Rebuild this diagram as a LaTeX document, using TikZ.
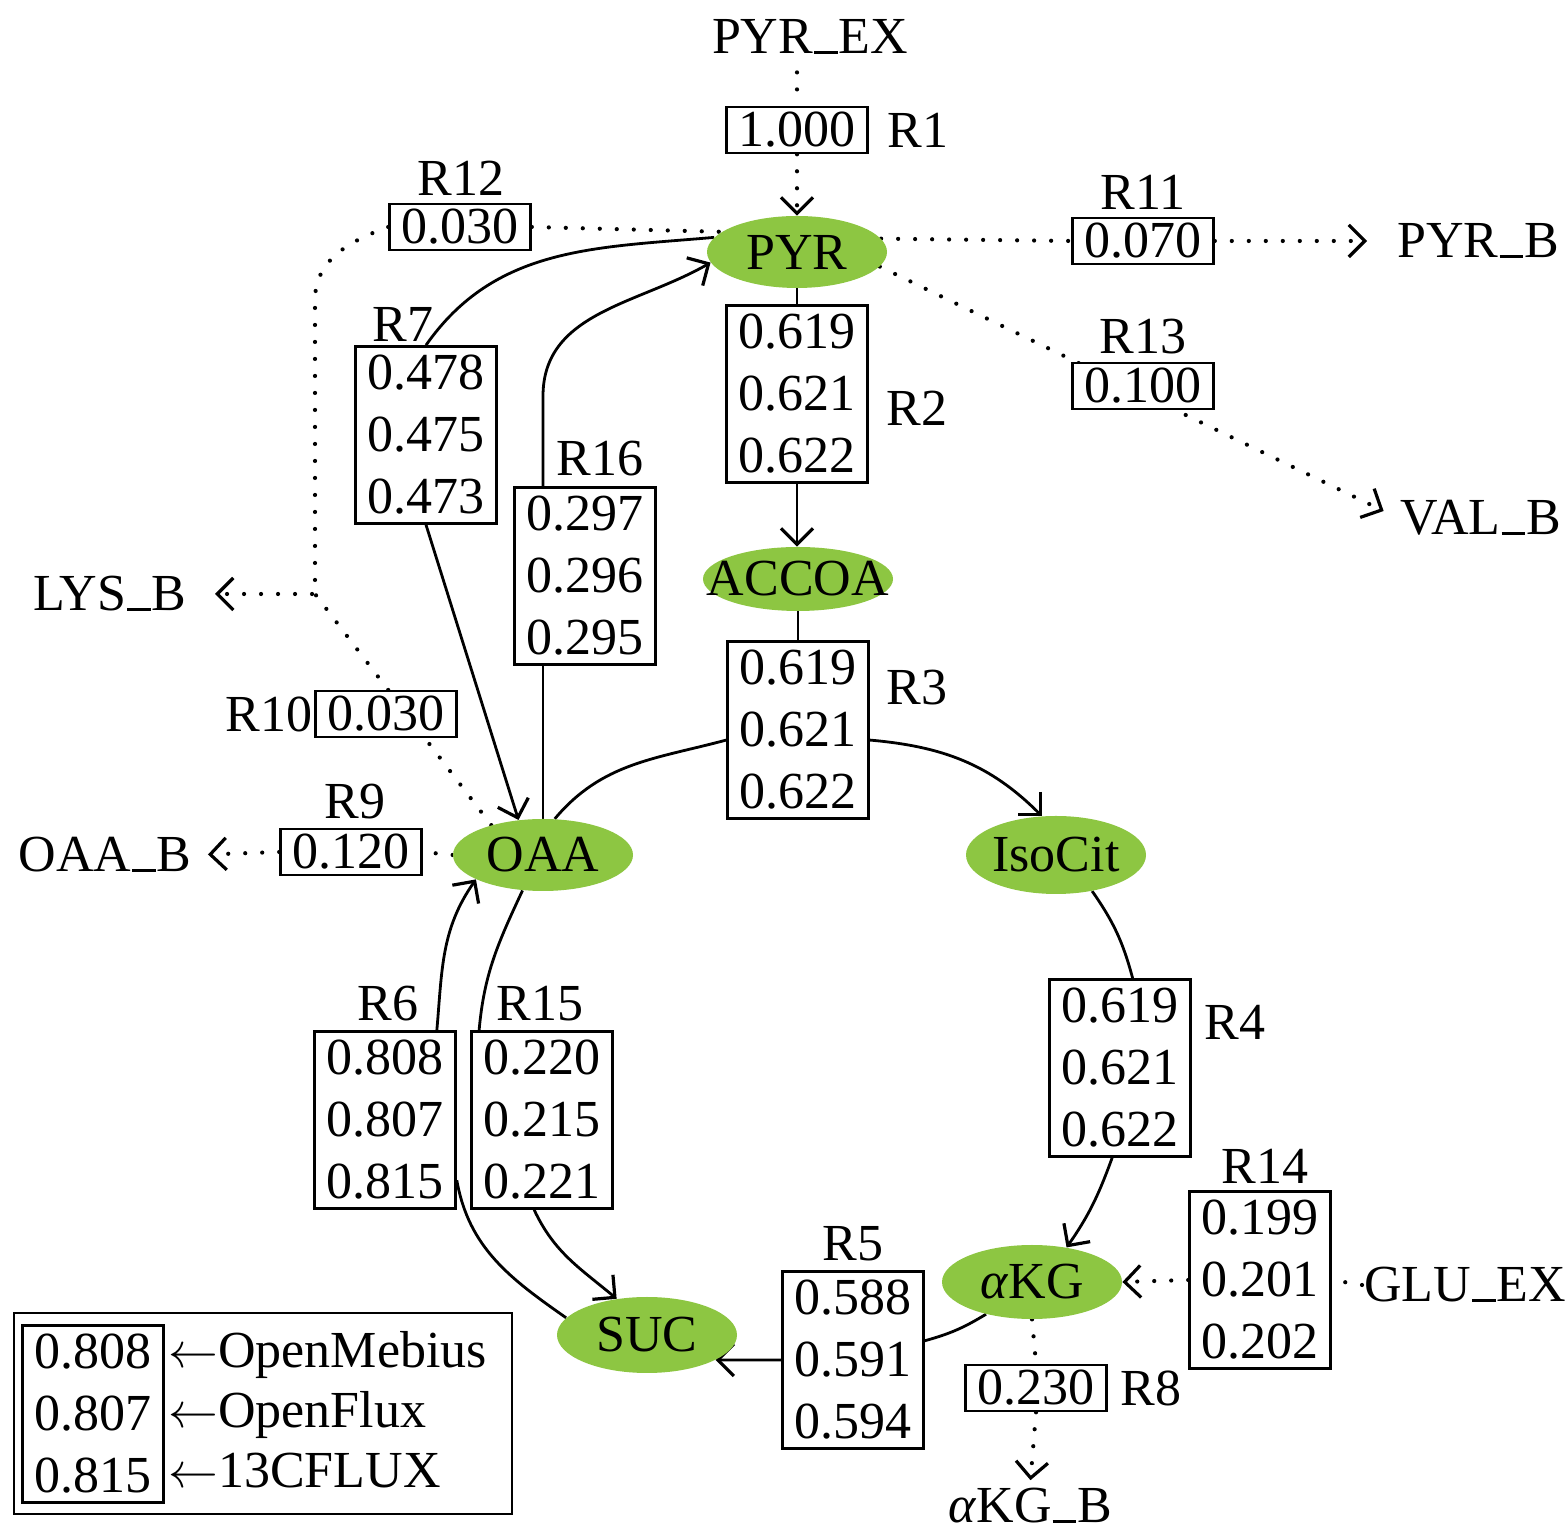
\documentclass[tikz,border=0pt]{standalone}
\usepackage{fontspec}
\setmainfont{Liberation Serif}
\usetikzlibrary{arrows.meta,shapes.geometric,calc}
\pgfdeclarelayer{bg}
\pgfsetlayers{bg,main}
\definecolor{metgreen}{RGB}{141,198,66}
\newcommand\zw[1]{\makebox[0pt]{#1}}
\newcommand\usc{\kern0.02em\rule{0.45em}{0.055em}\kern0.02em}
\begin{document}
\begin{tikzpicture}[x=0.5pt,y=0.5pt,
  font=\fontsize{26}{31}\selectfont,
  met/.style={ellipse, fill=metgreen, inner sep=0pt, minimum width=90pt, minimum height=36pt},
  onebox/.style={draw, fill=white, line width=1.3pt, inner sep=0pt, minimum width=70.5pt, minimum height=23pt},
  threebox/.style={draw, fill=white, line width=1.3pt, inner sep=0pt, minimum width=70.5pt, minimum height=88.5pt, align=center},
  lbl/.style={inner sep=1pt},
  flow/.style={line width=1.4pt},
  dotflow/.style={line width=2.1pt, line cap=round, dash pattern=on 0pt off 8.5pt},
  tipA/.style={-{Straight Barb[length=8pt,width=16pt,line width=1.6pt]}},
]
\useasboundingbox (0,0) rectangle (1567,1535);

% metabolites
\node[met] (pyr) at (797,1283) {\zw{PYR}};
\node[met, minimum width=95pt, minimum height=32pt] (accoa) at (798,956) {\zw{ACCOA}};
\node[met] (oaa) at (543,680) {\zw{OAA}};
\node[met, minimum height=39pt] (isocit) at (1056,680) {\zw{IsoCit}};
\node[met, minimum height=37pt] (akg) at (1032,253) {\zw{\textit{α}KG}};
\node[met, minimum height=38pt] (suc) at (647,200) {\zw{SUC}};

% flux boxes
\node[onebox] (r1) at (797,1405) {1.000};
\node[onebox] (r12) at (460,1308) {0.030};
\node[onebox] (r11) at (1143,1294) {0.070};
\node[onebox] (r13) at (1143,1149) {0.100};
\node[threebox] (r2) at (797,1141) {0.619\\0.621\\0.622};
\node[threebox] (r7) at (426,1100) {0.478\\0.475\\0.473};
\node[threebox] (r16) at (585,959) {0.297\\0.296\\0.295};
\node[threebox] (r3) at (798,805) {0.619\\0.621\\0.622};
\node[onebox] (r10) at (386,821) {0.030};
\node[onebox] (r9) at (351,683) {0.120};
\node[threebox] (r6) at (385,415) {0.808\\0.807\\0.815};
\node[threebox] (r15) at (542,415) {0.220\\0.215\\0.221};
\node[threebox] (r4) at (1120,467) {0.619\\0.621\\0.622};
\node[threebox] (r14) at (1260,255) {0.199\\0.201\\0.202};
\node[threebox] (r5) at (853,175) {0.588\\0.591\\0.594};
\node[onebox] (r8) at (1036,147) {0.230};

% legend
\node[draw, line width=1.3pt, minimum width=249pt, minimum height=100.5pt, inner sep=0pt] (legend) at (263,121.5) {};
\node[threebox] (legbox) at (93,121) {0.808\\0.807\\0.815};
\node[lbl, anchor=base west] (lg1) at (166,167) {$\leftarrow$OpenMebius};
\node[lbl, anchor=base west] (lg2) at (166,107) {$\leftarrow$OpenFlux};
\node[lbl, anchor=base west] (lg3) at (166,47) {$\leftarrow$13CFLUX};

% labels
\node[lbl] (pyrex) at (810,1498) {PYR\usc EX};
\node[lbl, anchor=west] (l1) at (885,1405) {R1};
\node[lbl] (l12) at (461,1357) {R12};
\node[lbl] (l11) at (1143,1343) {R11};
\node[lbl, anchor=west] (pyrb) at (1395,1294) {PYR\usc B};
\node[lbl] (l13) at (1143,1198) {R13};
\node[lbl, anchor=west] (l2) at (884,1127) {R2};
\node[lbl] (l7) at (403,1211) {R7};
\node[lbl] (l16) at (600,1076) {R16};
\node[lbl, anchor=west] (valb) at (1398,1017) {VAL\usc B};
\node[lbl, anchor=east] (lysb) at (189,941) {LYS\usc B};
\node[lbl, anchor=west] (l3) at (884,847) {R3};
\node[lbl, anchor=east] (l10) at (315,821) {R10};
\node[lbl] (l9) at (355,733) {R9};
\node[lbl, anchor=east] (oaab) at (194,680) {OAA\usc B};
\node[lbl] (l6) at (388,531) {R6};
\node[lbl] (l15) at (540,531) {R15};
\node[lbl, anchor=west] (l4) at (1202,513) {R4};
\node[lbl] (l14) at (1265,369) {R14};
\node[lbl] (l5) at (853,291) {R5};
\node[lbl, anchor=west] (glu) at (1362,250) {GLU\usc EX};
\node[lbl, anchor=west] (l8) at (1118,147) {R8};
\node[lbl, anchor=base] (akgb) at (1030,12) {\textit{α}KG\usc B};

\coordinate (lysc) at (315,941);
\coordinate (lystop) at (315,1235);

\begin{pgfonlayer}{bg}
% dotted exchange fluxes
\draw[dotflow, shorten <=8pt] (r1.north |- pyrex.south) -- (r1.north);
\draw[dotflow, tipA] (r1.south) -- (pyr.north);
\draw[dotflow] (pyr.9) -- (r11.west);
\draw[dotflow, tipA, shorten >=14pt] (r11.east) -- (pyrb.west);
\draw[dotflow, tipA, shorten >=8pt] (pyr.-10) -- (valb.west);
\draw[dotflow] (r12.east) -- (pyr.165);
\draw[dotflow, tipA, shorten >=13pt] (r12.west) to[out=200,in=90] (lystop) -- (lysc) -- (lysb.east);
\draw[dotflow] (oaa.150) -- (lysc);
\draw[dotflow] (oaa.west) -- (r9.east);
\draw[dotflow, tipA, shorten >=7pt] (r9.west) -- (oaab.east);
\draw[dotflow] (glu.west) -- (r14.east);
\draw[dotflow, tipA] (r14.west) -- (akg.east);
\draw[dotflow] (akg.south) -- (r8.north);
\draw[dotflow, tipA, shorten >=3pt] (r8.south) -- (akgb.north);
% solid fluxes
\draw[flow] (pyr.south) -- (r2.north);
\draw[flow, tipA] (r2.south) -- (r2.south |- accoa.north);
\draw[flow] (accoa.south) -- (r3.north);
\draw[flow] (oaa.72) to[out=50,in=195] (r3.188);
\draw[flow, tipA] (r3.-8) to[out=-5,in=135] (isocit.110);
\draw[flow] (isocit.-45) to[out=-55,in=105] (r4.82);
\draw[flow, tipA] (r4.-95) to[out=-110,in=55] (akg.45);
\draw[flow] (akg.215) to[bend left=8] (r5.15);
\draw[flow, tipA] (r5.west) -- (suc.-20);
\draw[flow] (suc.168) to[out=145,in=-80] (r6.-40);
\draw[flow, tipA] (r6.60) to[out=85,in=235] (oaa.200);
\draw[flow] (oaa.240) to[out=-115,in=85] (r15.125);
\draw[flow, tipA] (r15.-95) to[out=-65,in=140] (suc.130);
\draw[flow] (r7.north) to[out=55,in=185] (pyr.170);
\draw[flow, tipA] (r7.south) -- (oaa.125);
\draw[flow] (oaa.north) -- (oaa.north |- r16.south);
\draw[flow, tipA] (oaa.north |- r16.north) -- ++(0,90) to[out=90,in=210] (pyr.187);
\end{pgfonlayer}
\end{tikzpicture}
\end{document}
